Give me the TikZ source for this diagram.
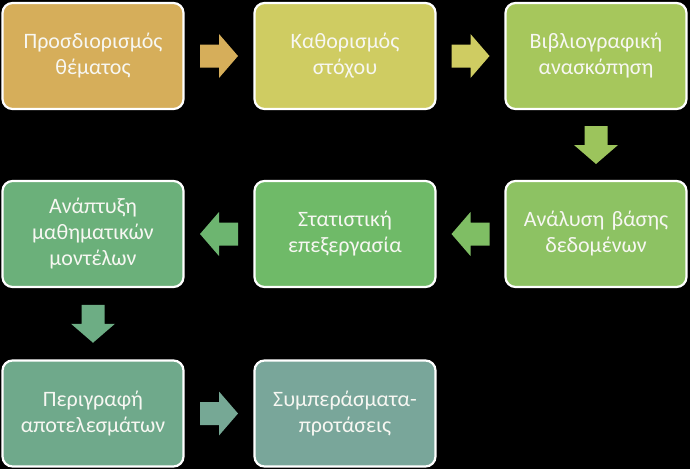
\documentclass[tikz,border=0pt]{standalone}
\usepackage{fontspec}
\setmainfont{Carlito}
\usetikzlibrary{calc}
\definecolor{c1}{HTML}{D6AE5A}
\definecolor{c2}{HTML}{CFCC62}
\definecolor{c3}{HTML}{A6C75C}
\definecolor{c4}{HTML}{8DC263}
\definecolor{c5}{HTML}{6FBA68}
\definecolor{c6}{HTML}{6BB07A}
\definecolor{c7}{HTML}{6FA98B}
\definecolor{c8}{HTML}{79A69A}
\definecolor{a1}{HTML}{D6AE5A}
\definecolor{a2}{HTML}{CFCC62}
\definecolor{a3}{HTML}{9CC45C}
\definecolor{a4}{HTML}{7FBE64}
\definecolor{a5}{HTML}{6DB570}
\definecolor{a6}{HTML}{6DAD84}
\definecolor{a7}{HTML}{76A895}
\definecolor{txt}{HTML}{F7F7F2}
\tikzset{
  stepbox/.style={rectangle, rounded corners=10pt, draw=white, line width=2.2pt,
    minimum width=181pt, minimum height=106pt, text width=174pt, align=center,
    text=txt, font=\fontsize{22}{26}\selectfont, inner sep=0pt}
}
\newcommand{\flowarrow}[3]{%
  \fill[#1, shift={(#2)}, rotate=#3]
    (-19,-11.5) -- (0,-11.5) -- (0,-22) -- (19,0) -- (0,22) -- (0,11.5) -- (-19,11.5) -- cycle;}
\begin{document}
\begin{tikzpicture}[x=1pt,y=-1pt]
\fill[black] (0,0) rectangle (690,469);
\useasboundingbox (0,0) rectangle (690,469);
\node[stepbox, fill=c1] (b1) at (93,56) {Προσδιορισμός\\θέματος};
\node[stepbox, fill=c2] (b2) at (345,56) {Καθορισμός\\στόχου};
\node[stepbox, fill=c3] (b3) at (596,56) {Βιβλιογραφική\\ανασκόπηση};
\node[stepbox, fill=c4] (b4) at (596,234) {Ανάλυση βάσης\\δεδομένων};
\node[stepbox, fill=c5] (b5) at (345,234) {Στατιστική\\επεξεργασία};
\node[stepbox, fill=c6] (b6) at (93,234) {Ανάπτυξη\\μαθηματικών\\μοντέλων};
\node[stepbox, fill=c7] (b7) at (93,413.5) {Περιγραφή\\αποτελεσμάτων};
\node[stepbox, fill=c8] (b8) at (345,413.5) {Συμπεράσματα-\\προτάσεις};
\coordinate (r1) at ($(b1.east)!0.5!(b2.west)$);
\coordinate (r2) at ($(b2.east)!0.5!(b3.west)$);
\coordinate (r3) at ($(b3.south)!0.5!(b4.north)$);
\coordinate (r4) at ($(b4.west)!0.5!(b5.east)$);
\coordinate (r5) at ($(b5.west)!0.5!(b6.east)$);
\coordinate (r6) at ($(b6.south)!0.5!(b7.north)$);
\coordinate (r7) at ($(b7.east)!0.5!(b8.west)$);
\flowarrow{a1}{r1}{0}
\flowarrow{a2}{r2}{0}
\flowarrow{a3}{r3}{-90}
\flowarrow{a4}{r4}{180}
\flowarrow{a5}{r5}{180}
\flowarrow{a6}{r6}{-90}
\flowarrow{a7}{r7}{0}
\end{tikzpicture}
\end{document}
